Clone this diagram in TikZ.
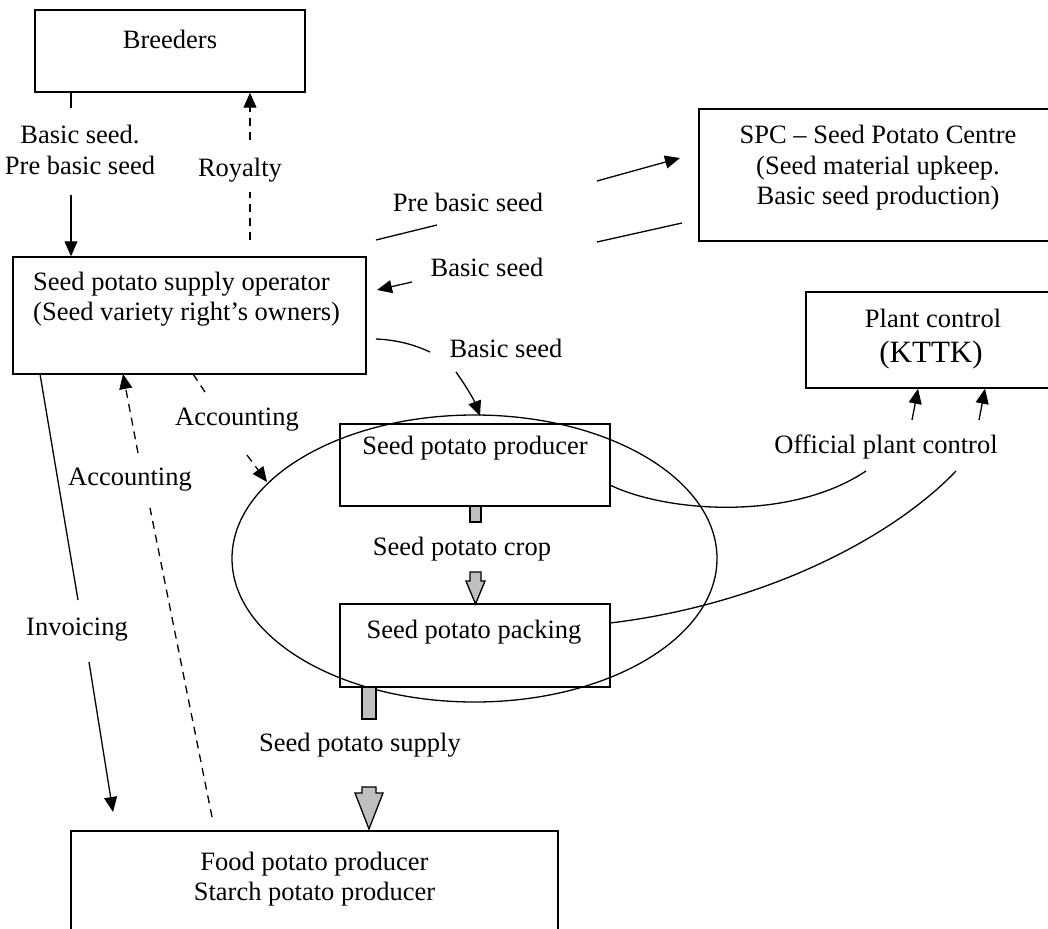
\documentclass[tikz,border=0pt]{standalone}
\usepackage{fontspec}
\setmainfont{Liberation Serif}
\usetikzlibrary{arrows.meta,shapes.geometric}
\begin{document}
\begin{tikzpicture}[x=1pt,y=-1pt,
  box/.style={draw, line width=1.5pt, inner sep=0pt},
  txt/.style={inner sep=0pt, font=\fontsize{26.5}{30.5}\selectfont, align=center},
  conn/.style={line width=1.3pt},
  tipped/.style={-{Triangle[length=15pt,width=13pt]}},
  dsh/.style={dash pattern=on 8pt off 6pt},
  blk/.style={draw, line width=1.3pt, fill=black!25, line join=miter}]
\useasboundingbox (0,0) rectangle (1048,928);

% boxes
\node[box, minimum width=270pt, minimum height=82pt] (breeders) at (170,51) {};
\node[box, minimum width=353pt, minimum height=117pt] (op) at (189.5,315.5) {};
\node[box, minimum width=361pt, minimum height=132pt] (spc) at (879.5,175) {};
\node[box, minimum width=254pt, minimum height=96pt] (pc) at (933,340) {};
\node[box, minimum width=270pt, minimum height=82pt] (prod) at (475,465) {};
\node[box, minimum width=270pt, minimum height=83pt] (pack) at (475,645.5) {};
\node[box, minimum width=487pt, minimum height=109pt] (food) at (314.5,885.5) {};
\node[ellipse, draw, line width=1.3pt, inner sep=0pt, minimum width=485pt, minimum height=287pt] (grp) at (474.5,558.5) {};

% box texts
\node[txt] (tBreeders) at (170,39) {Breeders};
\node[txt, align=left, anchor=west] (tOp) at (33,299) {Seed potato supply operator\\(Seed variety right’s owners)};
\node[txt] (tSpc) at (878,168) {SPC – Seed Potato Centre\\(Seed material upkeep.\\Basic seed production)};
\node[txt] (tPc1) at (933,318) {Plant control};
\node[txt, font=\fontsize{31}{34}\selectfont] (tPc2) at (931,355) {(KTTK)};
\node[txt] (tProd) at (475,448) {Seed potato producer};
\node[txt] (tPack) at (474,632) {Seed potato packing};
\node[txt] (tFood) at (314.5,879) {Food potato producer\\Starch potato producer};

% connector labels
\node[txt] (lBasic1) at (80,150) {Basic seed.\\Pre basic seed};
\node[txt] (lRoyalty) at (240,170) {Royalty};
\node[txt] (lPre) at (468,202) {Pre basic seed};
\node[txt] (lBasic2) at (487,267) {Basic seed};
\node[txt] (lBasic3) at (506,348) {Basic seed};
\node[txt] (lAcc1) at (237,420) {Accounting};
\node[txt] (lAcc2) at (130,480) {Accounting};
\node[txt] (lInv) at (77,630) {Invoicing};
\node[txt] (lOpc) at (886,447) {Official plant control};
\node[txt] (lCrop) at (462,549) {Seed potato crop};
\node[txt] (lSupply) at (360,745) {Seed potato supply};

% break points
\coordinate (b1) at (71,108); \coordinate (b2) at (71,195);
\coordinate (r0) at (250,240); \coordinate (r1) at (250,192); \coordinate (r2) at (250,140);
\coordinate (p0) at (376,240); \coordinate (p1) at (437,225); \coordinate (p2) at (597,181); \coordinate (p3) at (680,158);
\coordinate (s0) at (682,223); \coordinate (s1) at (597,242); \coordinate (s2) at (412,282); \coordinate (s3) at (377,290);
\coordinate (c0) at (376,339); \coordinate (c1) at (430,352); \coordinate (c2) at (456,372); \coordinate (c3) at (480,416);
\coordinate (a0) at (193,374); \coordinate (a1) at (205,392); \coordinate (a2) at (247,455); \coordinate (a3) at (267,482);
\coordinate (d0) at (212,817); \coordinate (d1) at (150,508); \coordinate (d2) at (138,453); \coordinate (d3) at (123,374);
\coordinate (i0) at (40,374); \coordinate (i1) at (78,600); \coordinate (i2) at (89,662); \coordinate (i3) at (113,812);
\coordinate (o0) at (610,485); \coordinate (o1) at (866,471);
\coordinate (q0) at (610,623); \coordinate (q1) at (956,471);
\coordinate (k0) at (912,420); \coordinate (k1) at (979,420);

% connectors
\draw[conn] (breeders.south -| b1) -- (b1);
\draw[conn,tipped] (b2) -- (op.north -| b2);
\draw[conn,dsh] (r0) -- (r1);
\draw[conn,dsh,tipped] (r2) -- (breeders.south -| r2);
\draw[conn] (p0) -- (p1);
\draw[conn,tipped] (p2) -- (p3);
\draw[conn] (s0) -- (s1);
\draw[conn,tipped] (s2) -- (s3);
\draw[conn] (c0) .. controls (398,340) and (415,345) .. (c1);
\draw[conn,tipped] (c2) .. controls (466,386) and (474,400) .. (c3);
\draw[conn,dsh] (a0) -- (a1);
\draw[conn,dsh,tipped] (a2) -- (a3);
\draw[conn,dsh] (d0) -- (d1);
\draw[conn,dsh,tipped] (d2) -- (d3);
\draw[conn] (i0) -- (i1);
\draw[conn,tipped] (i2) -- (i3);
\draw[conn] (o0) .. controls (665,512) and (790,522) .. (o1);
\draw[conn] (q0) .. controls (760,605) and (890,540) .. (q1);
\draw[conn,tipped] (k0) -- (pc.south -| 918,0);
\draw[conn,tipped] (k1) -- (pc.south -| 985,0);

% block arrows
\draw[blk] (470,506) rectangle (481,522);
\draw[blk] (470,572) -- (481,572) -- (481,581) -- (485,581) -- (475.5,604) -- (466,581) -- (470,581) -- cycle;
\draw[blk] (362,687) rectangle (376,719);
\draw[blk] (362,787) -- (376,787) -- (376,793) -- (383,793) -- (369,829) -- (355,793) -- (362,793) -- cycle;
\end{tikzpicture}
\end{document}
